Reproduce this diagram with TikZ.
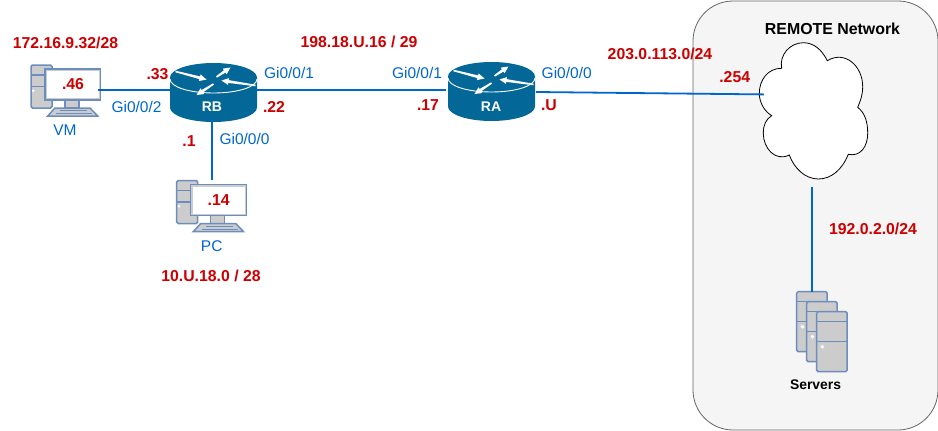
\documentclass[tikz,border=0pt]{standalone}
\usepackage{fontspec}
\setmainfont{Liberation Sans}
\usetikzlibrary{calc}
\definecolor{routerblue}{HTML}{036897}
\definecolor{linkblue}{HTML}{0066CC}
\definecolor{addrred}{HTML}{CC0000}
\definecolor{iconedge}{HTML}{6C8EBF}
\definecolor{icongrey}{HTML}{CCCCCC}
\definecolor{remotegrey}{HTML}{F5F5F5}
\definecolor{remoteedge}{HTML}{666666}
% Tapered white arrow from tail #1 to tip #2
\newcommand{\routerarrow}[2]{
    \fill[white] ($#1!0.8pt!90:#2$) -- ($#2!7pt!#1!1.4pt!-90:#1$)
        -- ($#2!7pt!#1!3.4pt!-90:#1$) -- #2
        -- ($#2!7pt!#1!3.4pt!90:#1$) -- ($#2!7pt!#1!1.4pt!90:#1$)
        -- ($#1!0.8pt!-90:#2$) -- cycle;
}
\tikzset{
    routericon/.pic={
        \fill[routerblue] (-43.5,-14.5) -- (-43.5,15.5)
            .. controls (-43.5,23.5) and (-24,30) .. (0,30)
            .. controls (24,30) and (43.5,23.5) .. (43.5,15.5)
            -- (43.5,-14.5) -- cycle;
        \fill[routerblue] (0,-14.5) ellipse [x radius=43.5, y radius=14.5];
        \draw[white, line width=0.9pt] (-43.5,-13)
            .. controls (-43.5,-5) and (-24,1) .. (0,1)
            .. controls (24,1) and (43.5,-5) .. (43.5,-13);
        \routerarrow{(-38,-20.5)}{(-7,-12.5)}
        \routerarrow{(3,-15)}{(17,-24.5)}
        \routerarrow{(42,-6.5)}{(8,-11.5)}
        \routerarrow{(0,-8)}{(-17,3)}
    },
    pcicon/.pic={
        \draw[iconline, rounded corners=1.5pt] (-42,-19.5) rectangle (-21,23.5);
        \draw[iconline] (-42,-9.5) -- (-21,-9.5);
        \draw[iconline] (-42,2.2) -- (-21,2.2);
        \fill[white] (-39.7,6.2) circle (1.4);
        \draw[iconline] (-8,15.5) rectangle (6,23.5);
        \draw[iconline] (-18,23.5) -- (17,23.5) -- (24.7,31.5) -- (-25.3,31.5) -- cycle;
        \draw[iconedge, line width=0.8pt] (-13,26) -- (14,26);
        \draw[iconedge, line width=0.8pt] (-17,29) -- (19,29);
        \draw[iconline] (-28,-15.5) rectangle (27.7,15.5);
    },
    towericon/.pic={
        \draw[iconline, rounded corners=1.5pt] (0,0) rectangle (30.5,60);
        \draw[iconline] (0,10) -- (30.5,10);
        \draw[iconline] (0,30) -- (30.5,30);
        \fill[white] (5.7,35) circle (1.9);
    }
}
\begin{document}
\begin{tikzpicture}[
    x=1pt, y=-1pt,
    iconline/.style={draw=iconedge, fill=icongrey, line width=1.5pt},
    link/.style={draw=linkblue, line width=1.8pt},
    routerbox/.style={rectangle, inner sep=0pt, outer sep=0pt,
                  minimum width=87pt, minimum height=60pt},
    routername/.style={text=white, inner sep=0pt,
                  font=\fontsize{14}{16}\selectfont\bfseries},
    screen/.style={rectangle, fill=white, inner sep=0pt, outer sep=0pt,
                  minimum width=52pt, minimum height=27pt},
    addr/.style={text=addrred, inner sep=0pt,
                  font=\fontsize{15.8}{18}\selectfont\bfseries},
    port/.style={text=linkblue, inner sep=0pt,
                  font=\fontsize{15.5}{18}\selectfont},
    blackname/.style={text=black, inner sep=0pt, font=\bfseries}
]
    \useasboundingbox (0,0) rectangle (938,431);

    % Remote network
    \node[rectangle, draw=remoteedge, fill=remotegrey, rounded corners=40pt,
          line width=0.8pt, minimum width=245pt, minimum height=429pt]
        (remote) at (815.5,215.5) {};
    \node[blackname, font=\fontsize{15.9}{18}\selectfont\bfseries] (remotename)
        at (832.5,29) {REMOTE Network};
    \draw[black, fill=white, line width=0.8pt] (781.7,68.3)
        .. controls (779,55) and (790,42.7) .. (803.3,42.7)
        .. controls (814,42.7) and (822,50) .. (827.3,60.7)
        .. controls (845,50) and (862.7,66) .. (862.7,86.7)
        .. controls (862.7,95) and (860,102) .. (857.7,107.3)
        .. controls (865,113) and (867.7,122) .. (867.7,133.3)
        .. controls (867.7,147) and (860,157) .. (848.3,154.3)
        .. controls (842,170) and (831,179) .. (818.3,179)
        .. controls (805,179) and (794,168) .. (789.3,155)
        .. controls (775,162) and (763.3,148) .. (763.3,133.3)
        .. controls (763.3,125) and (766,119) .. (771.7,115.7)
        .. controls (764,111) and (759.3,102) .. (759.3,93.3)
        .. controls (759.3,80) and (768,68) .. (781.7,68.3) -- cycle;
    \node[inner sep=0pt, outer sep=0pt, minimum width=97pt, minimum height=143pt]
        (cloud) at (812.3,115) {};

    % Servers
    \pic at (796.7,291.7) {towericon};
    \pic at (806.7,301.7) {towericon};
    \pic at (816.7,311.7) {towericon};
    \node[inner sep=0pt, outer sep=0pt, minimum width=51pt, minimum height=80pt]
        (servers) at (822.2,331.7) {};
    \node[blackname, font=\fontsize{13.9}{16}\selectfont\bfseries] (serversname)
        at (815.5,385) {Servers};

    % Routers
    \pic at (213.5,92) {routericon};
    \node[routerbox] (rb) at (213.5,90) {};
    \node[routername] (rbname) at (212,106.7) {RB};
    \pic at (491.5,91) {routericon};
    \node[routerbox] (ra) at (491.5,90) {};
    \node[routername] (raname) at (491,106.7) {RA};

    % Hosts
    \pic at (73,84.5) {pcicon};
    \node[screen, addr] (vm) at (73,84.5) {.46};
    \node[port] (vmname) at (65,130) {VM};
    \pic at (218.7,200) {pcicon};
    \node[screen, addr] (pc) at (218.7,200) {.14};
    \node[port] (pcname) at (211.7,246) {PC};

    % Links
    \draw[link, shorten <=-1pt] (vm.east |- rb.west) -- (rb.west);
    \draw[link, shorten >=2pt] (rb.east) -- (ra.west);
    \draw[link, shorten >=6.5pt] ([xshift=-1.5pt]rb.south) -- ([xshift=-1.5pt]rb.south |- pc.north);
    \draw[link] ([xshift=1pt,yshift=-2pt]ra.east) -- (cloud.157);
    \draw[link] (cloud.south) -- (cloud.south |- servers.north);

    % Networks
    \node[addr] (netvm) at (65.5,42.5) {172.16.9.32/28};
    \node[addr] (netlan) at (211,276) {10.U.18.0 / 28};
    \node[addr] (netwan) at (359,42) {198.18.U.16 / 29};
    \node[addr] (netisp) at (660,54) {203.0.113.0/24};
    \node[addr] (netsrv) at (873,229) {192.0.2.0/24};

    % Addresses
    \node[addr] (rbvm) at (157.5,74) {.33};
    \node[addr] (rbwan) at (274,107) {.22};
    \node[addr] (rblan) at (189,141) {.1};
    \node[addr] (rawan) at (428,105) {.17};
    \node[addr] (raisp) at (549,105) {.U};
    \node[addr] (cloudisp) at (734.7,76.7) {.254};

    % Ports
    \node[port] (portrbvm) at (136.5,107) {Gi0/0/2};
    \node[port] (portrbwan) at (289,73) {Gi0/0/1};
    \node[port] (portrblan) at (244.5,139) {Gi0/0/0};
    \node[port] (portrawan) at (417,73) {Gi0/0/1};
    \node[port] (portraisp) at (566.7,73) {Gi0/0/0};

\end{tikzpicture}
\end{document}
